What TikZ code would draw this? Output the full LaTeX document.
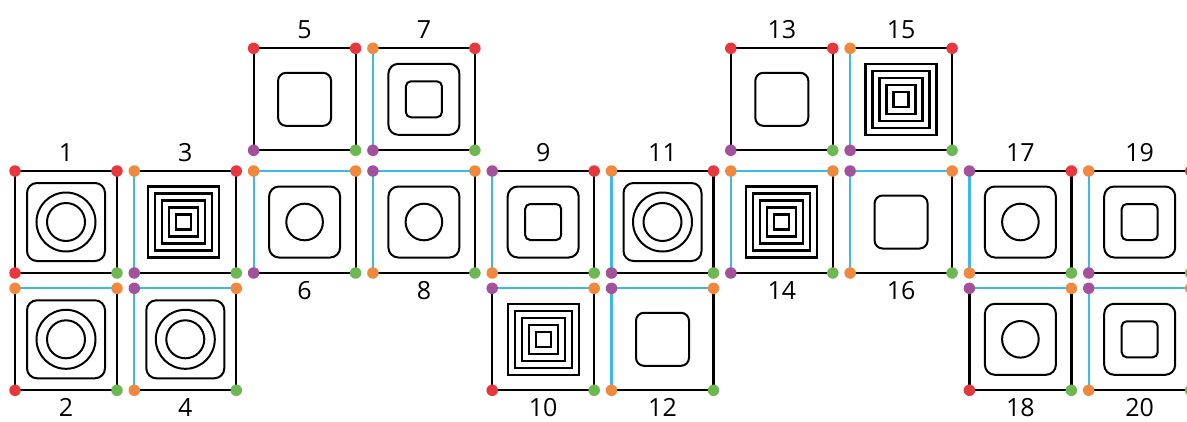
\documentclass[tikz,border=0pt]{standalone}
\usepackage{fontspec}
\setmainfont{Open Sans}
\usetikzlibrary{backgrounds,calc}
\definecolor{cred}{HTML}{E8383D}
\definecolor{corange}{HTML}{F0883E}
\definecolor{cpurple}{HTML}{A3519A}
\definecolor{cgreen}{HTML}{6DB853}
\definecolor{ccyan}{HTML}{3CB9EC}
\tikzset{
  edge/.style={line width=2.2pt},
  innerline/.style={line width=2pt},
  nestline/.style={line width=2.3pt},
  dot/.style={circle, fill=#1, draw=none, inner sep=0pt, minimum size=11.5pt},
  lab/.style={font=\fontsize{25}{28}\selectfont, inner sep=0pt}
}
% #1 name, #2 x, #3 y (top-left), #4 TL, #5 TR, #6 BL, #7 BR, #8 top edge colour, #9 left edge colour
\newcommand{\tile}[9]{%
  \begin{scope}[shift={(#2,#3)}]
    \node[dot=#4] (#1tl) at (0,0) {};
    \node[dot=#5] (#1tr) at (102,0) {};
    \node[dot=#6] (#1bl) at (0,102) {};
    \node[dot=#7] (#1br) at (102,102) {};
    \begin{pgfonlayer}{background}
      \draw[edge,draw=#8] (#1tl.center) -- (#1tr.center);
      \draw[edge,draw=#9] (#1tl.center) -- (#1bl.center);
      \draw[edge] (#1tr.center) -- (#1br.center);
      \draw[edge] (#1bl.center) -- (#1br.center);
    \end{pgfonlayer}
  \end{scope}}
\newcommand{\dblcirc}[2]{%
  \begin{scope}[shift={(#1,#2)}]
    \draw[innerline,rounded corners=10pt] (12,12) rectangle (90,90);
    \draw[innerline] (51,51) circle[radius=29.5pt];
    \draw[innerline] (51,51) circle[radius=19pt];
  \end{scope}}
\newcommand{\onecirc}[2]{%
  \begin{scope}[shift={(#1,#2)}]
    \draw[innerline,rounded corners=10pt] (15.5,15.5) rectangle (86.5,86.5);
    \draw[innerline] (51,51) circle[radius=18.3pt];
  \end{scope}}
\newcommand{\sqinsq}[2]{%
  \begin{scope}[shift={(#1,#2)}]
    \draw[innerline,rounded corners=10pt] (15.5,15.5) rectangle (86.5,86.5);
    \draw[innerline,rounded corners=5pt] (33,33) rectangle (69,69);
  \end{scope}}
\newcommand{\plainsq}[2]{%
  \begin{scope}[shift={(#1,#2)}]
    \draw[innerline,rounded corners=8pt] (24.5,24.5) rectangle (77.5,77.5);
  \end{scope}}
\newcommand{\nested}[2]{%
  \begin{scope}[shift={(#1,#2)}]
    \draw[nestline] (15.5,15.5) rectangle (86.5,86.5);
    \draw[nestline] (22.5,22.5) rectangle (79.5,79.5);
    \draw[nestline] (29.5,29.5) rectangle (72.5,72.5);
    \draw[nestline] (36.5,36.5) rectangle (65.5,65.5);
    \draw[nestline] (43.5,43.5) rectangle (58.5,58.5);
  \end{scope}}
% #1 name, #2 x, #3 y, #4 text
\newcommand{\toplab}[4]{\node[lab,anchor=base] (#1) at ($(#2,#3)+(51,-10)$) {#4};}
\newcommand{\botlab}[4]{\node[lab,anchor=north] (#1) at ($(#2,#3)+(51,110)$) {#4};}
\begin{document}
\begin{tikzpicture}[x=1pt,y=-1pt]
\useasboundingbox (0,0) rectangle (1187,421);
\clip (0,0) rectangle (1187,421);
% columns: 15 + 119.3 i ; rows: 48.3, 171, 288.3
\tile{a}{15}{171}{cred}{cred}{cred}{cgreen}{black}{black}
\dblcirc{15}{171}\toplab{l1}{15}{171}{1}
\tile{b}{15}{288.3}{corange}{corange}{cred}{cgreen}{ccyan}{black}
\dblcirc{15}{288.3}\botlab{l2}{15}{288.3}{2}
\tile{c}{134.3}{171}{corange}{cred}{cpurple}{cgreen}{black}{ccyan}
\nested{132.8}{171}\toplab{l3}{134.3}{171}{3}
\tile{d}{134.3}{288.3}{cpurple}{corange}{corange}{cgreen}{ccyan}{ccyan}
\dblcirc{134.3}{288.3}\botlab{l4}{134.3}{288.3}{4}
\tile{e}{253.6}{48.3}{cred}{cred}{cpurple}{cgreen}{black}{black}
\plainsq{253.6}{48.3}\toplab{l5}{253.6}{48.3}{5}
\tile{f}{253.6}{171}{corange}{corange}{cpurple}{cgreen}{ccyan}{ccyan}
\onecirc{253.6}{171}\botlab{l6}{253.6}{171}{6}
\tile{g}{372.9}{48.3}{corange}{cred}{cpurple}{cgreen}{black}{ccyan}
\sqinsq{372.9}{48.3}\toplab{l7}{372.9}{48.3}{7}
\tile{h}{372.9}{171}{cpurple}{corange}{corange}{cgreen}{ccyan}{ccyan}
\onecirc{372.9}{171}\botlab{l8}{372.9}{171}{8}
\tile{i}{492.2}{171}{cpurple}{cred}{corange}{cgreen}{black}{ccyan}
\sqinsq{492.2}{171}\toplab{l9}{492.2}{171}{9}
\tile{j}{492.2}{288.3}{cpurple}{corange}{cred}{cgreen}{ccyan}{black}
\nested{492.2}{288.3}\botlab{l10}{492.2}{288.3}{10}
\tile{k}{611.5}{171}{corange}{cred}{cpurple}{cgreen}{black}{ccyan}
\dblcirc{611.5}{171}\toplab{l11}{611.5}{171}{11}
\tile{m}{611.5}{288.3}{cpurple}{corange}{corange}{cgreen}{ccyan}{ccyan}
\plainsq{611.5}{288.3}\botlab{l12}{611.5}{288.3}{12}
\tile{n}{730.8}{48.3}{cred}{cred}{cpurple}{cgreen}{black}{black}
\plainsq{730.8}{48.3}\toplab{l13}{730.8}{48.3}{13}
\tile{o}{730.8}{171}{corange}{corange}{cpurple}{cgreen}{ccyan}{ccyan}
\nested{730.8}{171}\botlab{l14}{730.8}{171}{14}
\tile{p}{850.1}{48.3}{corange}{cred}{cpurple}{cgreen}{black}{ccyan}
\nested{850.1}{48.3}\toplab{l15}{850.1}{48.3}{15}
\tile{q}{850.1}{171}{cpurple}{corange}{corange}{cgreen}{ccyan}{ccyan}
\plainsq{850.1}{171}\botlab{l16}{850.1}{171}{16}
\tile{r}{969.4}{171}{cpurple}{cred}{corange}{cgreen}{black}{ccyan}
\onecirc{969.4}{171}\toplab{l17}{969.4}{171}{17}
\tile{s}{969.4}{288.3}{cpurple}{corange}{cred}{cgreen}{ccyan}{black}
\onecirc{969.4}{288.3}\botlab{l18}{969.4}{288.3}{18}
\tile{t}{1088.7}{171}{corange}{cred}{cpurple}{cgreen}{black}{ccyan}
\sqinsq{1088.7}{171}\toplab{l19}{1088.7}{171}{19}
\tile{u}{1088.7}{288.3}{cpurple}{corange}{corange}{cgreen}{ccyan}{ccyan}
\sqinsq{1088.7}{288.3}\botlab{l20}{1088.7}{288.3}{20}
\end{tikzpicture}
\end{document}
